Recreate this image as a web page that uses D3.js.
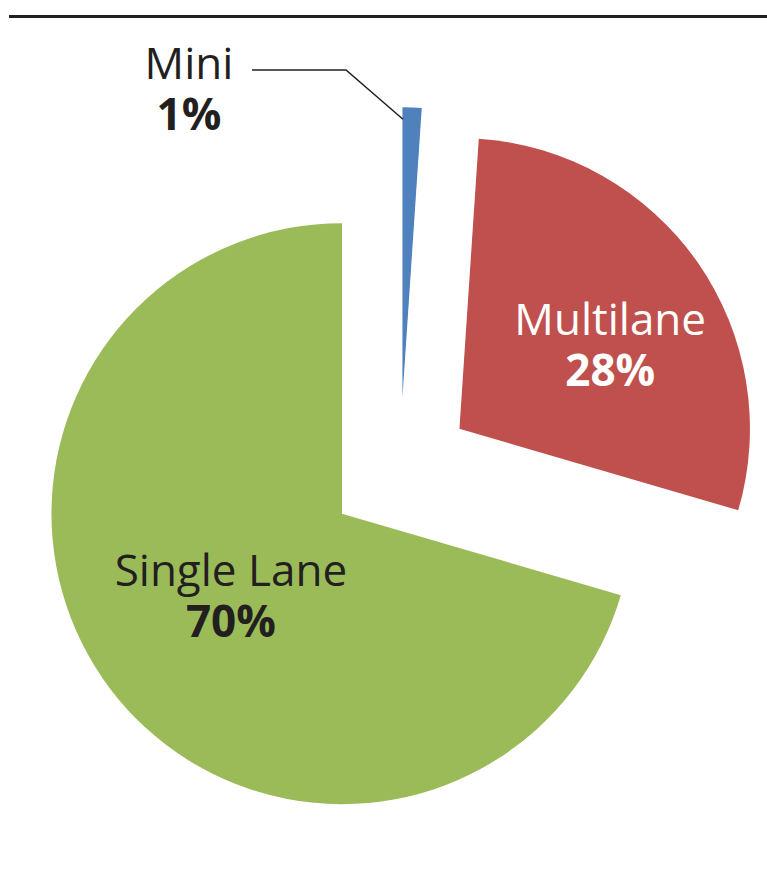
<!DOCTYPE html>
<html>
<head>
<meta charset="utf-8">
<script src="https://cdn.jsdelivr.net/npm/d3@7"></script>
<style>
  html, body { margin: 0; padding: 0; background: #ffffff; }
  svg { display: block; }
  text { font-family: "Open Sans", "Noto Sans", sans-serif; }
</style>
</head>
<body>
<script>
// ---- Data ----
const categories = ["Mini", "Multilane", "Single Lane"];
const values = [1.06, 28.47, 70.47];
const colors = ["#4F81BD", "#C0504D", "#9BBB59"];

// ---- Layout ----
const W = 767, H = 896;
const cx = 400, cy = 470.2;
const R = 290.5;
const explode = 72.5;
const ink = "#231F20";
const fontSize = 44;
const lineGap = 51;

const svg = d3.select("body").append("svg")
  .attr("width", W).attr("height", H)
  .attr("viewBox", `0 0 ${W} ${H}`);

// top rule
svg.append("line")
  .attr("x1", 9).attr("x2", W)
  .attr("y1", 16.5).attr("y2", 16.5)
  .attr("stroke", ink).attr("stroke-width", 3);

const total = d3.sum(values);
const pct = d3.format(".0%");
const pie = d3.pie().sort(null).value(d => d);
const arcs = pie(values);
const arc = d3.arc().innerRadius(0).outerRadius(R);
const color = d3.scaleOrdinal().domain(categories).range(colors);

const polar = (a, dist) => [dist * Math.sin(a), -dist * Math.cos(a)];

const g = svg.append("g").attr("transform", `translate(${cx},${cy})`);

arcs.forEach((a, i) => {
  const mid = (a.startAngle + a.endAngle) / 2;
  const [ox, oy] = polar(mid, explode);
  a.ox = ox; a.oy = oy; a.mid = mid;
  g.append("path")
    .attr("d", arc(a))
    .attr("transform", `translate(${ox},${oy})`)
    .attr("fill", color(categories[i]));
});

// two-line label as one text element (name + bold share)
function label(x, y, name, share, fill) {
  const t = g.append("text")
    .attr("text-anchor", "middle")
    .attr("font-size", fontSize)
    .attr("fill", fill);
  t.append("tspan").attr("x", x).attr("y", y).text(name);
  t.append("tspan").attr("x", x).attr("y", y + lineGap)
    .attr("font-weight", "bold").text(share);
}

// label placement (relative to slice apex): radius fraction & angle tweak (deg)
const labelPlace = {
  "Multilane": { k: 0.592, da: 6.2, fill: "#ffffff" },
  "Single Lane": { k: 0.478, da: 0, fill: ink }
};

arcs.forEach((a, i) => {
  const name = categories[i];
  const share = pct(values[i] / total);
  if (labelPlace[name]) {
    const p = labelPlace[name];
    const [lx, ly] = polar(a.mid + p.da * Math.PI / 180, p.k * R);
    label(a.ox + lx, a.oy + ly - 10.5, name, share, p.fill);
  } else {
    // outside label with leader line (Mini)
    label(189 - cx, 79 - cy, name, share, ink);
    const [px, py] = polar(a.startAngle + 0.002, R - 12);
    const end = [a.ox + px, a.oy + py];
    const elbow = [346 - cx, 70 - cy];
    const start = [252 - cx, 70 - cy];
    g.append("path")
      .attr("d", d3.line()([start, elbow, end]))
      .attr("fill", "none").attr("stroke", ink).attr("stroke-width", 1.5);
  }
});
</script>
</body>
</html>
